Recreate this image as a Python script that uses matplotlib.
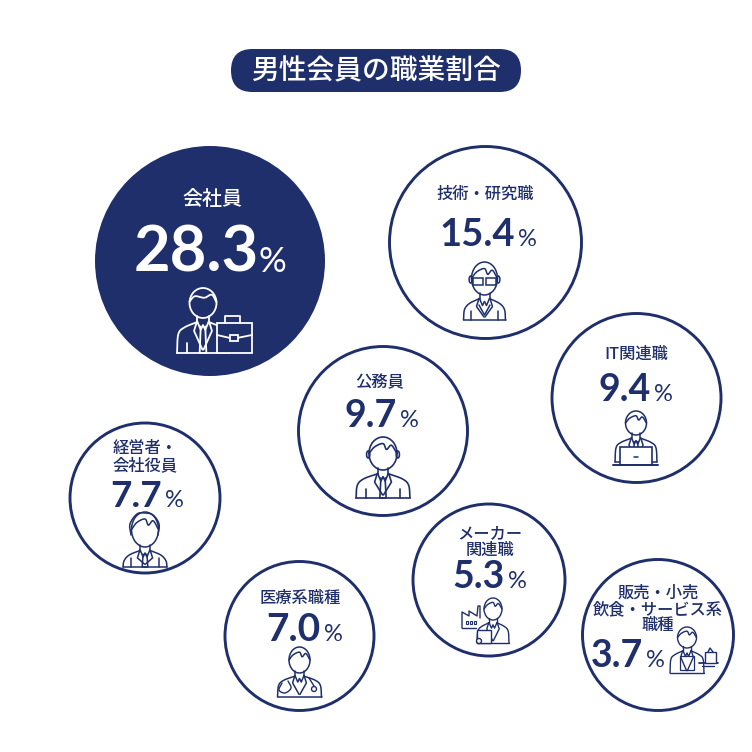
import numpy as np
import matplotlib
matplotlib.use("Agg")
import matplotlib.pyplot as plt
from matplotlib.patches import Circle, Ellipse, FancyBboxPatch, Rectangle

# ---- data ----
title = "男性会員の職業割合"
occupations = ["会社員", "技術・研究職", "IT関連職", "公務員", "経営者・\n会社役員",
               "医療系職種", "メーカー\n関連職", "販売・小売\n飲食・サービス系\n職種"]
shares = [28.3, 15.4, 9.4, 9.7, 7.7, 7.0, 5.3, 3.7]

# ---- layout (pixels) ----
centers = [(210, 261), (485.5, 242.5), (636.5, 398), (383, 431),
           (145, 498), (299.5, 636), (489, 580), (658, 635)]
radii = [115, 96, 84.5, 84.5, 75, 74.5, 76, 75.5]
label_xy = [(212, 199), (485, 194), (636, 354), (380, 383),
            (145, 457), (300, 598), (490, 542), (658, 609.5)]
label_px = [20, 16.3, 16.3, 16.3, 16.3, 16.3, 16.3, 16.3]
line_px = [20, 16, 16, 16, 17, 16, 16.5, 16]
value_anchor = [(259, 272), (515, 246), (651, 401), (397, 427),
                (162, 507), (321, 641), (505, 588), (643, 667)]
value_pt = [45.5, 27.5, 27, 27, 26.5, 28, 27, 27]
pct_pt = [25, 17, 17, 17, 17, 17, 17, 17]

NAVY = "#1f2f6b"
WHITE = "#ffffff"
plt.rcParams["font.family"] = ["Noto Sans CJK JP", "DejaVu Sans"]

fig = plt.figure(figsize=(7.52, 7.52), dpi=100, facecolor="white")
ax = fig.add_axes([0, 0, 1, 1])
ax.set_xlim(0, 752)
ax.set_ylim(752, 0)
ax.axis("off")


def smooth(pts, n=12):
    p = np.array(pts, float)
    if len(p) < 3:
        return p
    q = np.vstack([2 * p[0] - p[1], p, 2 * p[-1] - p[-2]])
    out = []
    for i in range(1, len(q) - 2):
        t = np.linspace(0, 1, n, endpoint=False)[:, None]
        a, b, c, d = q[i - 1], q[i], q[i + 1], q[i + 2]
        out.append(0.5 * (2 * b + (c - a) * t + (2 * a - 5 * b + 4 * c - d) * t ** 2
                          + (3 * b - a - 3 * c + d) * t ** 3))
    out.append(p[-1:])
    return np.vstack(out)


def ln(pts, c, lw=1.1, curve=False, z=4):
    p = smooth(pts) if curve else np.array(pts, float)
    ax.plot(p[:, 0], p[:, 1], color=c, lw=lw, solid_capstyle="round",
            solid_joinstyle="round", zorder=z)


def person(cx, top, chin, bottom, hw, rx, c, hair="side", tie=True, lw=1.1, ears=False, arms=True):
    ry = (chin - top) / 2
    cy = top + ry
    ax.add_patch(Ellipse((cx, cy), 2 * rx, 2 * ry, fill=False, ec=c, lw=lw, zorder=4))
    s = (bottom - top) / 58
    if hair == "side":
        ln([(cx - rx, cy - 0.1 * ry), (cx - 0.6 * rx, cy - 0.45 * ry), (cx + 0.1 * rx, cy - 0.35 * ry),
            (cx + 0.65 * rx, cy - 0.55 * ry), (cx + rx, cy - 0.05 * ry)], c, lw, True)
    elif hair == "m":
        ln([(cx - rx, cy), (cx - 0.6 * rx, cy - 0.4 * ry), (cx, cy - 0.6 * ry), (cx + 0.25 * rx, cy - 0.25 * ry),
            (cx + 0.6 * rx, cy - 0.5 * ry), (cx + rx, cy)], c, lw, True)
    if ears:
        ax.add_patch(Ellipse((cx - rx - 0.8, cy + 1), 3.2, 7, fill=False, ec=c, lw=lw, zorder=4))
        ax.add_patch(Ellipse((cx + rx + 0.8, cy + 1), 3.2, 7, fill=False, ec=c, lw=lw, zorder=4))
    ny = chin + 3.5 * s
    for d in (-1, 1):
        ln([(cx + d * 5 * s, chin - 2), (cx + d * 5 * s, ny)], c, lw)
        ln([(cx + d * 5 * s, ny), (cx + d * 0.72 * hw, ny + 5 * s), (cx + d * 0.95 * hw, ny + 11 * s),
            (cx + d * hw, bottom)], c, lw, True)
        if arms:
            ln([(cx + d * 0.62 * hw, bottom - 9 * s), (cx + d * 0.62 * hw, bottom)], c, lw)
        ln([(cx + d * 5 * s, ny), (cx + d * 2 * s, ny + 7 * s), (cx, ny + 3 * s)], c, lw)
        ln([(cx + d * 5.5 * s, ny), (cx + d * 8 * s, ny + 8 * s), (cx + d * 0.5 * s, bottom - 3 * s)], c, lw)
    if tie:
        ln([(cx - 2 * s, ny + 4 * s), (cx - 3 * s, bottom), (cx + 3 * s, bottom), (cx + 2 * s, ny + 4 * s)], c, lw)
    ln([(cx - hw, bottom), (cx + hw, bottom)], c, lw)


# ---- title pill ----
ax.add_patch(FancyBboxPatch((231, 49), 290, 43, boxstyle="round,pad=0,rounding_size=21.5",
                            fc=NAVY, ec="none", zorder=1))
ax.text(376, 70.5, title, color=WHITE, fontsize=20, ha="center", va="center",
        fontweight="medium", zorder=5)

# ---- circles and text ----
for i, (occ, v) in enumerate(zip(occupations, shares)):
    filled = i == 0
    c = WHITE if filled else NAVY
    ax.add_patch(Circle(centers[i], radii[i], fc=NAVY if filled else WHITE, ec=NAVY,
                        lw=0 if filled else 2.1, zorder=2))
    lines = occ.split("\n")
    for j, line in enumerate(lines):
        ax.text(label_xy[i][0], label_xy[i][1] + (j - (len(lines) - 1) / 2) * line_px[i], line,
                color=c, fontsize=label_px[i] * 0.72, ha="center", va="center",
                fontweight="medium", zorder=5)
    ax.text(value_anchor[i][0], value_anchor[i][1], f"{v:.1f}", color=c, fontsize=value_pt[i],
            family="Lato", fontweight="bold", ha="right", va="baseline", zorder=5)
    ax.text(value_anchor[i][0] + (0 if filled else 3), value_anchor[i][1], "%", color=c, fontsize=pct_pt[i],
            family="Lato", fontweight="regular", ha="left", va="baseline", zorder=5)

# ---- icons ----
person(203, 288, 318, 353, 26, 13.5, WHITE, lw=1.3)
ax.add_patch(Rectangle((217, 323), 35, 30, fc=NAVY, ec=WHITE, lw=1.3, zorder=5))
ln([(225, 323), (225, 316), (240, 316), (240, 323)], WHITE, 1.3, z=6)
ln([(217, 335), (230, 338)], WHITE, 1.3, z=6)
ln([(237, 338), (252, 335)], WHITE, 1.3, z=6)
ax.add_patch(Rectangle((229.5, 335), 8, 6, fc=NAVY, ec=WHITE, lw=1.3, zorder=6))

person(484.5, 262, 295, 320, 21, 13, NAVY, hair="m", tie=False, ears=True)
for d in (-6.5, 6.5):
    ax.add_patch(Rectangle((484.5 + d - 4.8, 278), 9.6, 6.5, fill=False, ec=NAVY, lw=1.1, zorder=5))
ln([(479, 305), (484.5, 315), (490, 305)], NAVY)

person(636, 411, 435, 462, 21, 10.5, NAVY, hair="m", tie=True, arms=False)
ax.add_patch(Rectangle((620, 447), 32, 18, fc=WHITE, ec=NAVY, lw=1.2, zorder=5))
ln([(613, 465), (658, 465)], NAVY, 1.4, z=6)
ln([(634, 457), (638, 457)], NAVY, 1.1, z=6)

person(383, 437, 470, 498, 27, 14, NAVY, hair="m", ears=True, lw=1.2)

person(145, 512, 547, 567, 22, 13.5, NAVY, hair="m", ears=False)
ln([(131, 535), (130, 524), (137, 514), (145, 513), (153, 515), (159, 524), (158, 535)], NAVY, 1.1, True)

person(299.5, 647, 673, 697, 22, 10.5, NAVY, hair="m", tie=False, arms=False)
ln([(282, 683), (279, 690), (285, 693), (291, 688), (288, 681)], NAVY, 1.0, True)
ax.add_patch(Circle((314, 689), 2.5, fill=False, ec=NAVY, lw=1.0, zorder=5))
ln([(309, 678), (314, 686)], NAVY, 1.0)

person(493, 598, 620, 643, 16, 9, NAVY, hair="m", tie=False, arms=False, lw=1.0)
ln([(462, 628), (462, 612), (469, 616), (469, 611), (477, 616), (478, 606), (480, 606), (480, 618)], NAVY, 1.0)
ln([(462, 628), (476, 628)], NAVY, 1.0)
for x in (467, 471, 475):
    ax.add_patch(Rectangle((x - 1, 621), 2, 2.5, fill=False, ec=NAVY, lw=0.8, zorder=5))
ax.add_patch(Rectangle((477, 630), 14, 13, fc=WHITE, ec=NAVY, lw=1.0, zorder=5))
ax.add_patch(Circle((479, 641), 2.5, fc=WHITE, ec=NAVY, lw=1.0, zorder=6))

person(687, 627, 648, 673, 17, 9.5, NAVY, hair="m", tie=False, arms=False, lw=1.0)
ax.add_patch(Rectangle((680, 656), 14, 14, fill=False, ec=NAVY, lw=0.9, zorder=5))
ln([(699, 663), (718, 663)], NAVY, 1.3, z=6)
ln([(702, 666), (714, 666)], NAVY, 1.0, z=6)
ax.add_patch(Rectangle((705, 652), 11, 11, fc=WHITE, ec=NAVY, lw=1.0, zorder=6))
ln([(708, 652), (710, 648), (713, 652)], NAVY, 1.0, z=6)

fig.savefig("out.png", dpi=100, facecolor="white")
